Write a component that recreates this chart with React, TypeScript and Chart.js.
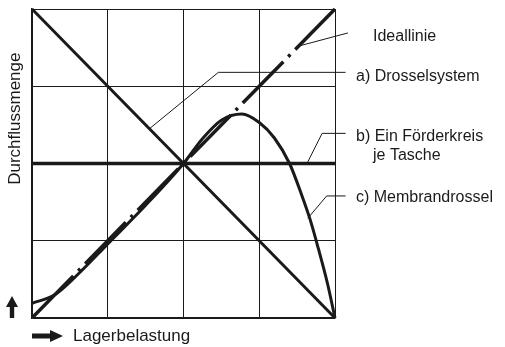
import React, { useEffect, useRef } from "react";
import { Chart, registerables } from "chart.js";

Chart.register(...registerables);

// ---- data (axis units 0..4) ----
const idealX = [0, 4];
const idealY = [0, 4];
const drosselX = [0, 4];
const drosselY = [4, 0];
const foerderX = [0, 4];
const foerderY = [2, 2];
const membranX = [0, 0.3, 0.6, 1, 1.5, 2, 2.25, 2.5, 2.77, 3, 3.2, 3.4, 3.55, 3.67, 3.78, 3.9, 4];
const membranY = [0.19, 0.3, 0.56, 0.96, 1.46, 2, 2.32, 2.56, 2.64, 2.53, 2.33, 2.0, 1.62, 1.28, 0.9, 0.45, 0];

const seriesLabels = ["Ideallinie", "a) Drosselsystem", "b) Ein Förderkreis", "je Tasche", "c) Membrandrossel"];
const xTitle = "Lagerbelastung";
const yTitle = "Durchflussmenge";

const INK = "#1a1a1a";
const FONT = '"Liberation Sans", Arial, sans-serif';

const pts = (xs: number[], ys: number[]) => xs.map((x, i) => ({ x, y: ys[i] }));

const annotate = {
  id: "annotate",
  afterDraw(chart: any) {
    const { ctx, chartArea, scales } = chart;
    const X = (v: number) => scales.x.getPixelForValue(v);
    const Y = (v: number) => scales.y.getPixelForValue(v);
    ctx.save();
    // leader lines
    ctx.strokeStyle = INK;
    ctx.lineWidth = 1;
    const poly = (p: number[][]) => {
      ctx.beginPath();
      p.forEach(([x, y], i) => (i ? ctx.lineTo(X(x), Y(y)) : ctx.moveTo(X(x), Y(y))));
      ctx.stroke();
    };
    poly([[4.17, 3.69], [3.52, 3.52]]);
    poly([[4.14, 3.18], [2.46, 3.18], [1.55, 2.45]]);
    poly([[4.14, 2.39], [3.83, 2.39], [3.63, 2.0]]);
    poly([[4.14, 1.58], [3.89, 1.58], [3.64, 1.29]]);

    // labels
    ctx.fillStyle = INK;
    ctx.font = `16px ${FONT}`;
    ctx.textBaseline = "middle";
    ctx.textAlign = "left";
    const xa = chartArea.right + 21;
    const xb = chartArea.right + 38;
    ctx.fillText(seriesLabels[0], xb, Y(3.64));
    ctx.fillText(seriesLabels[1], xa, Y(3.13));
    ctx.fillText(seriesLabels[2], xa, Y(2.35));
    ctx.fillText(seriesLabels[3], xb, Y(2.1));
    ctx.fillText(seriesLabels[4], xa, Y(1.56));

    // axis titles
    ctx.font = `17px ${FONT}`;
    ctx.fillText(xTitle, chartArea.left + 41, chartArea.bottom + 18);
    ctx.save();
    ctx.translate(chartArea.left - 17, Y(2.58));
    ctx.rotate(-Math.PI / 2);
    ctx.textAlign = "center";
    ctx.fillText(yTitle, 0, 0);
    ctx.restore();

    // arrows
    const ux = chartArea.left - 20;
    const b = chartArea.bottom;
    ctx.beginPath();
    ctx.moveTo(ux, b - 22);
    ctx.lineTo(ux + 6, b - 11);
    ctx.lineTo(ux + 2.2, b - 11);
    ctx.lineTo(ux + 2.2, b);
    ctx.lineTo(ux - 2.2, b);
    ctx.lineTo(ux - 2.2, b - 11);
    ctx.lineTo(ux - 6, b - 11);
    ctx.closePath();
    ctx.fill();

    const ay = chartArea.bottom + 18;
    const ax = chartArea.left;
    ctx.beginPath();
    ctx.moveTo(ax, ay - 2.5);
    ctx.lineTo(ax + 18, ay - 2.5);
    ctx.lineTo(ax + 18, ay - 6);
    ctx.lineTo(ax + 31, ay);
    ctx.lineTo(ax + 18, ay + 6);
    ctx.lineTo(ax + 18, ay + 2.5);
    ctx.lineTo(ax, ay + 2.5);
    ctx.closePath();
    ctx.fill();
    ctx.restore();
  },
};

export default function App() {
  const ref = useRef<HTMLCanvasElement | null>(null);
  useEffect(() => {
    if (!ref.current) return;
    const line = (data: any[], width: number, extra: any = {}) => ({
      data,
      showLine: true,
      borderColor: INK,
      backgroundColor: INK,
      borderWidth: width,
      pointRadius: 0,
      fill: false,
      clip: false,
      ...extra,
    });
    const chart = new Chart(ref.current, {
      type: "scatter",
      data: {
        datasets: [
          line(pts(drosselX, drosselY), 3),
          line(pts(foerderX, foerderY), 3.5),
          line(pts(membranX, membranY), 3, { cubicInterpolationMode: "monotone" }),
          line(pts(idealX, idealY), 3.5, { borderDash: [58, 7, 3, 7], borderDashOffset: -1 }),
        ],
      },
      options: {
        responsive: false,
        animation: false,
        events: [],
        layout: { padding: { left: 32, top: 9, right: 170, bottom: 29 } },
        plugins: { legend: { display: false }, tooltip: { enabled: false } },
        scales: {
          x: {
            type: "linear",
            min: 0,
            max: 4,
            ticks: { display: false, stepSize: 1 },
            grid: { color: INK, lineWidth: 1, drawTicks: false },
            border: { color: INK, width: 1.5 },
          },
          y: {
            type: "linear",
            min: 0,
            max: 4,
            ticks: { display: false, stepSize: 1 },
            grid: { color: INK, lineWidth: 1, drawTicks: false },
            border: { color: INK, width: 1.5 },
          },
        },
      },
      plugins: [annotate],
    } as any);
    return () => chart.destroy();
  }, []);
  return (
    <div style={{ position: "absolute", left: 0, top: 0, width: 505, height: 347, background: "#fff" }}>
      <canvas ref={ref} width={505} height={347} style={{ display: "block" }} />
    </div>
  );
}
